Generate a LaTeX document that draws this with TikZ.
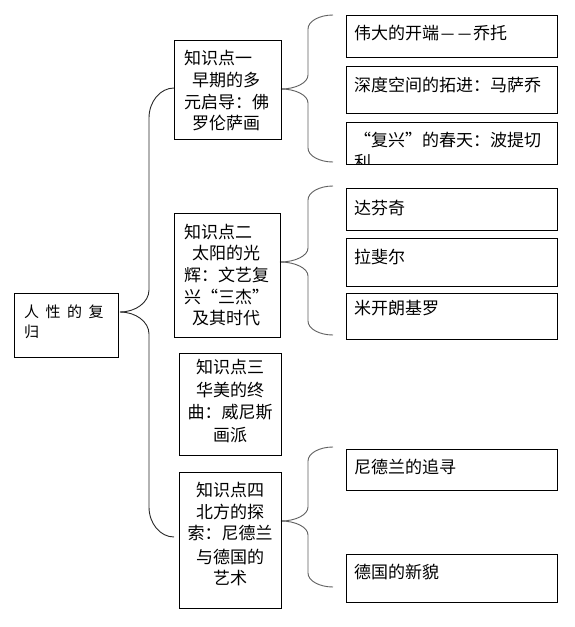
\documentclass[tikz,border=0pt]{standalone}
\usepackage{fontspec}
\newfontfamily\cjk{Noto Sans CJK SC}
\definecolor{bracegray}{RGB}{95,95,95}
\definecolor{bracedark}{RGB}{40,40,40}
\newcommand{\sepdash}{\makebox[1em]{\resizebox{0.8em}{\height}{—}}}
% #1 tip x, #2 tip y, #3 vertical x, #4 tip half-height, #5 top y, #6 bottom y, #7 end x, #8 end radius, #9 style
\newcommand{\mybrace}[9]{%
  \draw[#9] (#1,#2) .. controls (#1+0.55*#3-0.55*#1,#2) and (#3,#2-0.45*#4) .. (#3,#2-#4)
     -- (#3,#5+#8) .. controls (#3,#5+0.45*#8) and (#3+0.45*#7-0.45*#3,#5) .. (#7,#5);
  \draw[#9] (#1,#2) .. controls (#1+0.55*#3-0.55*#1,#2) and (#3,#2+0.45*#4) .. (#3,#2+#4)
     -- (#3,#6-#8) .. controls (#3,#6-0.45*#8) and (#3+0.45*#7-0.45*#3,#6) .. (#7,#6);}
\begin{document}
\begin{tikzpicture}[x=1pt,y=-1pt,
  box/.style={draw=black, line width=0.9pt, inner sep=0pt, anchor=north west},
  txt/.style={inner sep=0pt, anchor=base west, font=\cjk\fontsize{17}{20}\selectfont},
  ctxt/.style={txt, anchor=base},
  rtxt/.style={txt, font=\cjk\fontsize{15}{18}\selectfont},
  bracea/.style={draw=bracedark, line width=0.9pt},
  braceb/.style={draw=bracegray, line width=0.9pt}]
\useasboundingbox (0,0) rectangle (575,627);
\fill[white] (0,0) rectangle (575,627);

% braces
\mybrace{120}{312}{149}{22}{88}{537}{174}{30}{bracea}
\mybrace{281}{89}{308}{14}{15}{162}{333}{14}{braceb}
\mybrace{280}{262}{308}{14}{186}{335}{333}{14}{braceb}
\mybrace{281}{521}{308}{14}{447}{587}{333}{14}{braceb}

% root
\node[box, minimum width=104pt, minimum height=64pt] (root) at (14,293) {};
\node[rtxt] (r1) at (24,317.5) {人\hspace{6.5pt}性\hspace{6.5pt}的\hspace{6.5pt}复};
\node[rtxt] (r2) at (24,337.5) {归};

% knowledge point boxes
\node[box, minimum width=107pt, minimum height=99pt] (k1) at (174,40) {};
\node[txt] (k1a) at (184,64.5) {知识点一};
\node[txt] (k1b) at (192,86.5) {早期的多};
\node[txt] (k1c) at (184,108.5) {元启导：佛};
\node[txt] (k1d) at (192,129.5) {罗伦萨画};

\node[box, minimum width=106pt, minimum height=124pt] (k2) at (174,213) {};
\node[txt] (k2a) at (184,238.5) {知识点二};
\node[txt] (k2b) at (192,259.5) {太阳的光};
\node[txt] (k2c) at (184,281.5) {辉：文艺复};
\node[txt] (k2d) at (184,303.5) {兴“三杰”};
\node[txt] (k2e) at (192,324.5) {及其时代};

\node[box, minimum width=102pt, minimum height=102pt] (k3) at (179,353) {};
\node[ctxt] (k3a) at (230,373.5) {知识点三};
\node[ctxt] (k3b) at (230,396) {华美的终};
\node[ctxt] (k3c) at (230,418.5) {曲：威尼斯};
\node[ctxt] (k3d) at (230,441) {画派};

\node[box, minimum width=102pt, minimum height=136pt] (k4) at (179,472) {};
\node[ctxt] (k4a) at (230,496.5) {知识点四};
\node[ctxt] (k4b) at (230,518.5) {北方的探};
\node[ctxt] (k4c) at (230,539.5) {索：尼德兰};
\node[ctxt] (k4d) at (230,563.5) {与德国的};
\node[ctxt] (k4e) at (230,584.5) {艺术};

% right-hand boxes
\node[box, minimum width=211pt, minimum height=42pt] (s11) at (346,15) {};
\node[txt] (s11t) at (354,39.5) {伟大的开端\sepdash\sepdash 乔托};
\node[box, minimum width=211pt, minimum height=47pt] (s12) at (346,66) {};
\node[txt] (s12t) at (354,91.5) {深度空间的拓进：马萨乔};
\begin{scope}
  \clip (346,122) rectangle (557,164);
  \node[txt] (s13t) at (354,146.5) {“复兴”的春天：波提切};
  \node[txt] (s13u) at (354,168) {利};
\end{scope}
\node[box, minimum width=211pt, minimum height=42pt] (s13) at (346,122) {};

\node[box, minimum width=211pt, minimum height=42pt] (s21) at (346,188) {};
\node[txt] (s21t) at (354,214.5) {达芬奇};
\node[box, minimum width=211pt, minimum height=48pt] (s22) at (346,238) {};
\node[txt] (s22t) at (354,263.5) {拉斐尔};
\node[box, minimum width=211pt, minimum height=46pt] (s23) at (346,293) {};
\node[txt] (s23t) at (354,314) {米开朗基罗};

\node[box, minimum width=211pt, minimum height=41pt] (s41) at (346,449) {};
\node[txt] (s41t) at (354,473) {尼德兰的追寻};
\node[box, minimum width=211pt, minimum height=48pt] (s42) at (346,554) {};
\node[txt] (s42t) at (354,578) {德国的新貌};
\end{tikzpicture}
\end{document}
